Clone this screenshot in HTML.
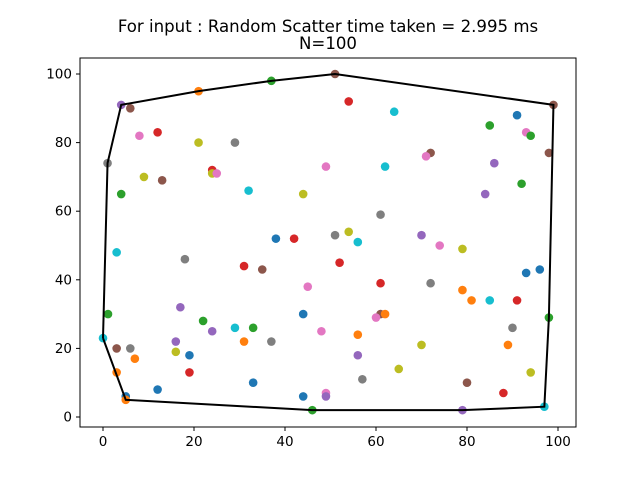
<!DOCTYPE html>
<html><head><meta charset="utf-8"><style>
body{margin:0;background:#fff;}
svg text{font-family:"DejaVu Sans","Liberation Sans",sans-serif;}
</style></head><body>
<svg id="chart" width="640" height="480" xmlns="http://www.w3.org/2000/svg">
<rect width="640" height="480" fill="#fff"/>
<text x="328" y="32" text-anchor="middle" font-size="16.6">For input : Random Scatter time taken = 2.995 ms</text>
<text x="328" y="49" text-anchor="middle" font-size="16.6">N=100</text>
<g id="marks"></g>
<rect x="80" y="58" width="496" height="369" fill="none" stroke="#000" stroke-width="1"/>
<g id="axes"></g>
</svg>
<script>
const xs=[4,6,21,37,51,54,64,91,99,8,12,21,29,85,93,94,98,1,9,13,24,24,25,49,62,72,71,86,4,32,44,84,92,61,38,42,51,54,56,70,74,79,3,18,31,35,52,93,96,61,72,45,79,81,85,91,1.1,17,44,61,62,60,98,90,22,29,33,24,48,56,0,3,6,16,31,37,70,89,7,16,19,56,3,19,65,94,12,33,57,80,88,5,5,44,49,49,46,79,97];
const ys=[91,90,95,98,100,92,89,88,91,82,83,80,80,85,83,82,77,74,70,69,72,71,71,73,73,77,76,74,65,66,65,65,68,59,52,52,53,54,51,53,50,49,48,46,44,43,45,42,43,39,39,38,37,34,34,34,30,32,30,30,30,29,29,26,28,26,26,25,25,24,23,20,20,22,22,22,21,21,17,19,18,18,13,13,14,13,8,10,11,10,7,6,5,6,7,6,2,2,3];
const colorNames=["purple","brown","orange","green","brown","red","cyan","blue","brown","pink","red","olive","gray","green","pink","green","brown","gray","olive","brown","red","olive","pink","pink","cyan","brown","pink","purple","green","cyan","olive","purple","green","gray","blue","red","gray","olive","cyan","purple","pink","olive","cyan","gray","red","brown","red","blue","blue","red","gray","pink","orange","orange","cyan","red","green","purple","blue","brown","orange","pink","green","gray","green","cyan","green","purple","pink","orange","cyan","brown","gray","purple","orange","gray","olive","orange","orange","olive","blue","purple","orange","red","olive","olive","blue","blue","gray","brown","red","blue","orange","blue","pink","purple","green","purple","cyan"];
const xTicks=[0,20,40,60,80,100];
const yTicks=[0,20,40,60,80,100];
const palette={blue:"#1f77b4",orange:"#ff7f0e",green:"#2ca02c",red:"#d62728",purple:"#9467bd",brown:"#8c564b",pink:"#e377c2",gray:"#7f7f7f",olive:"#bcbd22",cyan:"#17becf"};
const NS="http://www.w3.org/2000/svg";
const X=v=>103+v*4.55;
const Y=v=>417-v*3.43;
const marks=document.getElementById('marks');
const pts=xs.map((x,i)=>[x,ys[i]]).sort((a,b)=>a[0]-b[0]||a[1]-b[1]);
const cr=(o,a,b)=>(a[0]-o[0])*(b[1]-o[1])-(a[1]-o[1])*(b[0]-o[0]);
const lo=[],up=[];
for(const p of pts){while(lo.length>=2&&cr(lo[lo.length-2],lo[lo.length-1],p)<=0)lo.pop();lo.push(p);}
for(const p of pts.slice().reverse()){while(up.length>=2&&cr(up[up.length-2],up[up.length-1],p)<=0)up.pop();up.push(p);}
const hull=lo.concat(up);
for(let i=0;i<xs.length;i++){
 const c=document.createElementNS(NS,'circle');
 c.setAttribute('cx',X(xs[i]));c.setAttribute('cy',Y(ys[i]));c.setAttribute('r',4.3);
 c.setAttribute('fill',palette[colorNames[i]]);
 
 
 marks.appendChild(c);
}
const pl=document.createElementNS(NS,'polyline');
pl.setAttribute('points',hull.map(p=>X(p[0])+','+Y(p[1])).join(' '));
pl.setAttribute('fill','none');pl.setAttribute('stroke','#000');pl.setAttribute('stroke-width','2');


marks.appendChild(pl);
const axes=document.getElementById('axes');
xTicks.forEach(t=>{
 const l=document.createElementNS(NS,'line');
 l.setAttribute('x1',X(t));l.setAttribute('x2',X(t));l.setAttribute('y1',427);l.setAttribute('y2',431);l.setAttribute('stroke','#000');
 
 
 axes.appendChild(l);
 const tx=document.createElementNS(NS,'text');
 tx.setAttribute('x',X(t));tx.setAttribute('y',446);tx.setAttribute('text-anchor','middle');tx.setAttribute('font-size','13.5');
 tx.textContent=t;
 
 
 axes.appendChild(tx);
});
yTicks.forEach(t=>{
 const l=document.createElementNS(NS,'line');
 l.setAttribute('x1',76);l.setAttribute('x2',80);l.setAttribute('y1',Y(t));l.setAttribute('y2',Y(t));l.setAttribute('stroke','#000');
 
 
 axes.appendChild(l);
 const tx=document.createElementNS(NS,'text');
 tx.setAttribute('x',72);tx.setAttribute('y',Y(t)+4.5);tx.setAttribute('text-anchor','end');tx.setAttribute('font-size','13.5');
 tx.textContent=t;
 
 
 axes.appendChild(tx);
});
</script>
</body></html>
